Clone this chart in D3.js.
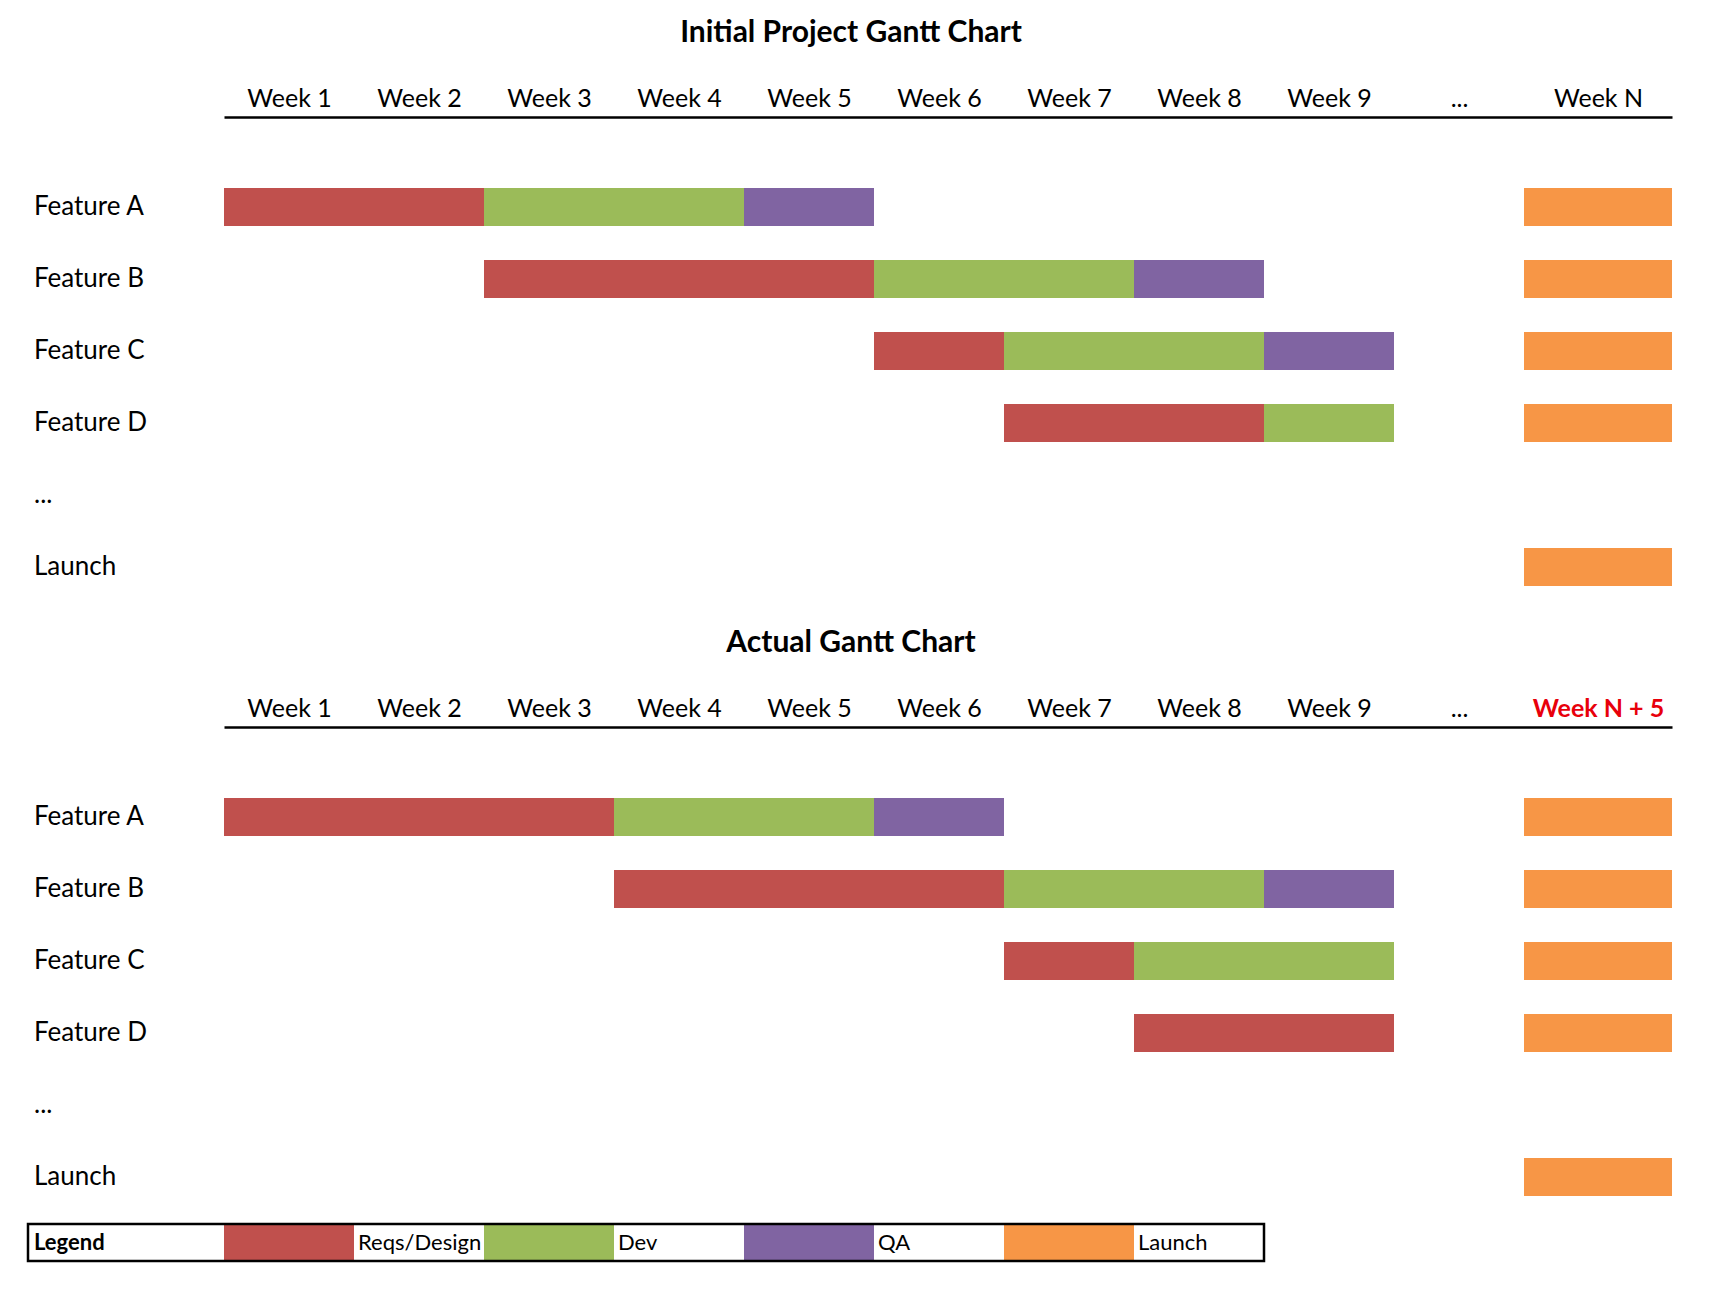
<!DOCTYPE html>
<html>
<head>
<meta charset="utf-8">
<script src="https://cdn.jsdelivr.net/npm/d3@7"></script>
<style>
  body { margin: 0; background: #fff; }
  text { font-family: Lato, "Open Sans", sans-serif; }
</style>
</head>
<body>
<svg id="chart"></svg>
<script>
// column headers (the last column is set per chart)
const weekLabels = ["Week 1", "Week 2", "Week 3", "Week 4", "Week 5", "Week 6", "Week 7", "Week 8", "Week 9", "..."];
const rows = ["Feature A", "Feature B", "Feature C", "Feature D", "...", "Launch"];
const phases = ["Reqs/Design", "Dev", "QA", "Launch"];
const phaseColors = ["#C0504D", "#9BBB59", "#8064A2", "#F79646"];

// [row, phase, start column, end column]  (column 10 = last "Week N" column)
const initialTasks = [
    ["Feature A", "Reqs/Design", 0, 2], ["Feature A", "Dev", 2, 4], ["Feature A", "QA", 4, 5], ["Feature A", "Launch", 10, 11],
    ["Feature B", "Reqs/Design", 2, 5], ["Feature B", "Dev", 5, 7], ["Feature B", "QA", 7, 8], ["Feature B", "Launch", 10, 11],
    ["Feature C", "Reqs/Design", 5, 6], ["Feature C", "Dev", 6, 8], ["Feature C", "QA", 8, 9], ["Feature C", "Launch", 10, 11],
    ["Feature D", "Reqs/Design", 6, 8], ["Feature D", "Dev", 8, 9], ["Feature D", "Launch", 10, 11],
    ["Launch", "Launch", 10, 11]
];
const actualTasks = [
    ["Feature A", "Reqs/Design", 0, 3], ["Feature A", "Dev", 3, 5], ["Feature A", "QA", 5, 6], ["Feature A", "Launch", 10, 11],
    ["Feature B", "Reqs/Design", 3, 6], ["Feature B", "Dev", 6, 8], ["Feature B", "QA", 8, 9], ["Feature B", "Launch", 10, 11],
    ["Feature C", "Reqs/Design", 6, 7], ["Feature C", "Dev", 7, 9], ["Feature C", "Launch", 10, 11],
    ["Feature D", "Reqs/Design", 7, 9], ["Feature D", "Launch", 10, 11],
    ["Launch", "Launch", 10, 11]
];

const width = 1732, height = 1292;
const svg = d3.select("#chart").attr("width", width).attr("height", height);
svg.append("rect").attr("width", width).attr("height", height).attr("fill", "#fff");

const x = d3.scaleLinear().domain([0, 10, 11]).range([224, 1524, 1672]);
const color = d3.scaleOrdinal().domain(phases).range(phaseColors);

function drawGantt(top, title, lastLabel, lastColor, tasks) {
    let g = svg.append("g").attr("transform", "translate(0," + top + ")");

    g.append("text")
        .attr("x", 851).attr("y", 42)
        .attr("text-anchor", "middle")
        .attr("font-size", 30).attr("font-weight", "bold")
        .text(title);

    let labels = weekLabels.concat([lastLabel]);
    let axis = d3.axisTop(x)
        .tickValues(d3.range(labels.length).map(i => i + 0.5))
        .tickFormat((d, i) => labels[i])
        .tickSize(0)
        .tickSizeOuter(0)
        .tickPadding(10);
    let ax = g.append("g").attr("transform", "translate(0,117)").call(axis);
    ax.select(".domain").attr("stroke", "#000").attr("stroke-width", 2.5);
    ax.selectAll("text").attr("font-size", 25).attr("font-family", "Lato").attr("fill", "#000");
    ax.selectAll(".tick:last-of-type text")
        .attr("fill", lastColor)
        .attr("font-weight", lastColor == "#000" ? "normal" : "bold");

    let y = d3.scaleBand().domain(rows).range([171, 603]).paddingInner(34 / 72).paddingOuter(17 / 72);

    g.selectAll(".row-label").data(rows).join("text")
        .attr("class", "row-label")
        .attr("x", 34)
        .attr("y", d => y(d) + y.bandwidth() / 2 - 1)
        .attr("dy", "0.35em")
        .attr("font-size", 26)
        .text(d => d);

    g.selectAll(".bar").data(tasks).join("rect")
        .attr("class", "bar")
        .attr("x", d => x(d[2]))
        .attr("width", d => x(d[3]) - x(d[2]))
        .attr("y", d => y(d[0]))
        .attr("height", y.bandwidth())
        .attr("fill", d => color(d[1]));
}

drawGantt(0, "Initial Project Gantt Chart", "Week N", "#000", initialTasks);
drawGantt(610, "Actual Gantt Chart", "Week N + 5", "#E8000B", actualTasks);

// legend: swatch in one week column, its name in the next
let lg = svg.append("g");
let legendTop = 1224, legendH = 37;
lg.selectAll(".swatch").data(phases).join("rect")
    .attr("x", (d, i) => x(2 * i))
    .attr("width", (d, i) => x(2 * i + 1) - x(2 * i))
    .attr("y", legendTop)
    .attr("height", legendH)
    .attr("fill", d => color(d));
lg.selectAll(".lname").data(phases).join("text")
    .attr("x", (d, i) => x(2 * i + 1) + 4)
    .attr("y", legendTop + legendH / 2)
    .attr("dy", "0.35em")
    .attr("font-size", 22)
    .text(d => d);
lg.append("text")
    .attr("x", 34).attr("y", legendTop + legendH / 2).attr("dy", "0.35em")
    .attr("font-size", 22).attr("font-weight", "bold")
    .text("Legend");
lg.append("rect")
    .attr("x", 28).attr("y", legendTop)
    .attr("width", x(8) - 28).attr("height", legendH)
    .attr("fill", "none").attr("stroke", "#000").attr("stroke-width", 2.5);
</script>
</body>
</html>
